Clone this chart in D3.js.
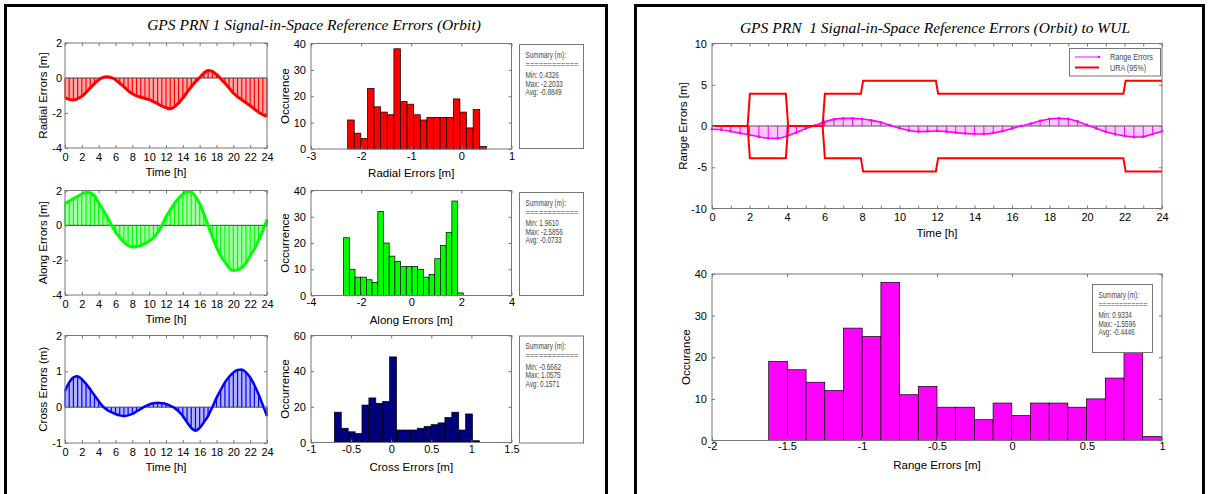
<!DOCTYPE html>
<html>
<head>
<meta charset="utf-8">
<script src="https://cdn.jsdelivr.net/npm/d3@7"></script>
<style>
  body { margin: 0; background: #fff; }
  svg { display: block; }
</style>
</head>
<body>
<svg id="chart" width="1210" height="494"></svg>
<script>
// ---- data ----
const hours = [0,0.5,1,1.5,2,2.5,3,3.5,4,4.5,5,5.5,6,6.5,7,7.5,8,8.5,9,9.5,10,10.5,11,11.5,12,
               12.5,13,13.5,14,14.5,15,15.5,16,16.5,17,17.5,18,18.5,19,19.5,20,20.5,21,21.5,22,22.5,23,23.5,24];

const radialErr = [-1.14,-1.22,-1.25,-1.18,-1.05,-0.82,-0.57,-0.32,-0.1,0.03,0.07,0.02,-0.1,-0.3,-0.5,-0.72,
                   -0.9,-1.02,-1.1,-1.17,-1.24,-1.35,-1.47,-1.6,-1.7,-1.76,-1.65,-1.42,-1.14,-0.82,-0.5,-0.22,
                   0.03,0.28,0.43,0.38,0.2,-0.04,-0.29,-0.58,-0.86,-1.07,-1.24,-1.41,-1.58,-1.77,-1.96,-2.1,-2.2];
const alongErr = [1.25,1.4,1.54,1.66,1.79,1.88,1.87,1.68,1.3,0.9,0.5,0.05,-0.38,-0.7,-0.96,-1.15,
                  -1.25,-1.22,-1.15,-1.04,-0.9,-0.72,-0.42,-0.02,0.48,0.88,1.25,1.55,1.79,1.94,1.92,1.65,
                  1.25,0.65,0.0,-0.65,-1.25,-1.75,-2.1,-2.45,-2.59,-2.55,-2.42,-2.15,-1.75,-1.35,-0.85,-0.3,0.33];
const crossErr = [0.45,0.69,0.83,0.86,0.78,0.65,0.5,0.33,0.17,0.02,-0.08,-0.14,-0.19,-0.23,-0.25,-0.23,
                  -0.19,-0.12,-0.05,0.02,0.08,0.11,0.12,0.11,0.09,0.04,-0.02,-0.12,-0.25,-0.42,-0.58,-0.66,
                  -0.58,-0.42,-0.25,0.0,0.26,0.48,0.69,0.85,0.97,1.04,1.05,0.97,0.83,0.62,0.36,0.06,-0.25];
const rangeErr = [-0.4,-0.45,-0.65,-0.87,-1.09,-1.3,-1.48,-1.5,-1.22,-0.8,-0.3,0.05,0.5,0.8,0.92,0.93,
                  0.85,0.68,0.45,0.1,-0.25,-0.55,-0.68,-0.65,-0.6,-0.68,-0.8,-0.9,-0.97,-0.97,-0.85,-0.62,
                  -0.3,0.0,0.3,0.62,0.85,0.93,0.85,0.55,0.12,-0.3,-0.7,-1.0,-1.2,-1.35,-1.3,-0.98,-0.65];

const uraTimes = [0,1.9,2.02,3.94,4.06,5.9,6.02,7.94,8.06,11.94,12.06,21.94,22.06,24];
const uraLevel = [0,0,3.9,3.9,0,0,3.9,3.9,5.5,5.5,3.9,3.9,5.5,5.5];

const radialCounts = [11,6,4,23,16,14,13,38,18,17,13,11,12,12,12,12,19,14,8,15,1];
const alongCounts  = [22,10,7,7,6,5,32,20,15,13,11,11,11,10,7,8,14,19,24,36,1];
const crossCounts  = [17,8,6,5,21,25,22,23,48,7,7,7,8,9,10,11,14,17,7,16,1];
const rangeCounts  = [19,17,14,12,27,25,38,11,13,8,8,5,9,6,9,9,8,10,15,25,1];

const radialBins = [-2.269, 0.4985];
const alongBins  = [-2.699, 2.075];
const crossBins  = [-0.709, 1.1006];
const rangeBins  = [-1.622, 0.996];

const radialSummary = ["Summary (m):", "============", "Min: 0.4326", "Max: -2.2033", "Avg: -0.8849"];
const alongSummary  = ["Summary (m):", "============", "Min: 1.9610", "Max: -2.5856", "Avg: -0.0733"];
const crossSummary  = ["Summary (m):", "============", "Min: -0.6662", "Max: 1.0575", "Avg: 0.1571"];
const rangeSummary  = ["Summary (m):", "============", "Min: 0.9334", "Max: -1.5596", "Avg: -0.4446"];

const hourTicks = [0,2,4,6,8,10,12,14,16,18,20,22,24];
const hourTicksAll = [0,1,2,3,4,5,6,7,8,9,10,11,12,13,14,15,16,17,18,19,20,21,22,23,24];
const errTicks = [-4,-2,0,2];
const crossTicks = [-1,0,1,2];
const rangeTicks = [-10,-5,0,5,10];
const radialHistX = [-3,-2,-1,0,1];
const alongHistX = [-4,-2,0,2,4];
const crossHistX = [-1,-0.5,0,0.5,1,1.5];
const rangeHistX = [-2,-1.5,-1,-0.5,0,0.5,1];
const count40 = [0,10,20,30,40];
const count60 = [0,20,40,60];

// ---- drawing ----
const FONT = '"Liberation Sans", Arial, sans-serif';
const AX = "#777";
const fmt = d => String(d);   // plain hyphen minus, no trailing zeros
const svg = d3.select("#chart");

// panel frames
svg.append("rect").attr("x", 5.5).attr("y", 5.5).attr("width", 601).attr("height", 600)
    .attr("fill", "none").attr("stroke", "#000").attr("stroke-width", 3);
svg.append("rect").attr("x", 635.5).attr("y", 5.5).attr("width", 568).attr("height", 600)
    .attr("fill", "none").attr("stroke", "#000").attr("stroke-width", 3);

// titles
svg.append("text").attr("x", 314).attr("y", 30).attr("text-anchor", "middle")
    .attr("font-family", '"Liberation Serif", "Times New Roman", serif').attr("font-style", "italic")
    .attr("font-size", 15.5).text("GPS PRN 1 Signal-in-Space Reference Errors (Orbit)");
svg.append("text").attr("x", 935).attr("y", 32.5).attr("text-anchor", "middle")
    .attr("font-family", '"Liberation Serif", "Times New Roman", serif').attr("font-style", "italic")
    .attr("font-size", 15.5).attr("xml:space", "preserve")
    .text("GPS PRN  1 Signal-in-Space Reference Errors (Orbit) to WUL");

function axesBox(g, x, y, xTicks, yTicks, opt) {
    const [l, r] = x.range();
    const [b, t] = y.range();
    const ax = (axis, tx, ty) => g.append("g")
        .attr("transform", `translate(${tx},${ty})`)
        .call(axis)
        .call(s => s.select(".domain").remove())
        .call(s => s.selectAll(".tick line").attr("stroke", AX))
        .call(s => s.selectAll("text").attr("font-size", 11).attr("font-family", FONT).attr("fill", "#000"));

    ax(d3.axisBottom(x).tickValues(opt.xTickMarks || xTicks).tickSize(-3).tickPadding(opt.xPad)
        .tickFormat(d => xTicks.includes(d) ? fmt(d) : ""), 0, b);
    ax(d3.axisTop(x).tickValues(opt.xTickMarks || xTicks).tickSize(-3).tickFormat(""), 0, t);
    ax(d3.axisLeft(y).tickValues(yTicks).tickSize(-3).tickPadding(opt.yPad).tickFormat(fmt), l, 0);
    ax(d3.axisRight(y).tickValues(yTicks).tickSize(-3).tickFormat(""), r, 0);

    g.append("rect").attr("x", l).attr("y", t).attr("width", r - l).attr("height", b - t)
        .attr("fill", "none").attr("stroke", AX);

    g.append("text").attr("x", (l + r) / 2).attr("y", b + 28).attr("text-anchor", "middle")
        .attr("font-family", FONT).attr("font-size", 11.5).text(opt.xlabel);
    g.append("text").attr("transform", `translate(${l - opt.yLabOff},${(t + b) / 2}) rotate(-90)`)
        .attr("text-anchor", "middle").attr("font-family", FONT).attr("font-size", 11.5).text(opt.ylabel);
}

function timePlot(box, vals, yDomain, yTicks, color, light, lw, ylabel) {
    const g = svg.append("g");
    const x = d3.scaleLinear().domain([0, 24]).range([box[0], box[1]]);
    const y = d3.scaleLinear().domain(yDomain).range([box[3], box[2]]);

    g.append("path").datum(vals)
        .attr("d", d3.area().x((d, i) => x(hours[i])).y0(y(0)).y1(d => y(d)).curve(d3.curveMonotoneX))
        .attr("fill", light);
    g.selectAll(".stem").data(vals).enter().append("line")
        .attr("x1", (d, i) => x(hours[i])).attr("x2", (d, i) => x(hours[i]))
        .attr("y1", y(0)).attr("y2", d => y(d))
        .attr("stroke", color).attr("stroke-width", 1.2);
    g.append("line").attr("x1", x(0)).attr("x2", x(24)).attr("y1", y(0)).attr("y2", y(0))
        .attr("stroke", "#444").attr("stroke-width", 1);
    g.append("path").datum(vals)
        .attr("d", d3.line().x((d, i) => x(hours[i])).y(d => y(d)).curve(d3.curveMonotoneX))
        .attr("fill", "none").attr("stroke", color).attr("stroke-width", lw);

    axesBox(g, x, y, hourTicks, yTicks, { xPad: 5, yPad: 3, xlabel: "Time [h]", ylabel: ylabel, yLabOff: 18 });
}

function summaryBox(x0, y0, w, h, lines) {
    const g = svg.append("g");
    g.append("rect").attr("x", x0).attr("y", y0).attr("width", w).attr("height", h)
        .attr("fill", "#fff").attr("stroke", AX);
    const offs = [13, 22, 33.5, 42, 50.5];
    lines.forEach((s, i) => {
        const t = g.append("text")
            .attr("transform", `translate(${x0 + 6},${y0 + offs[i]}) scale(0.78,1)`)
            .attr("font-family", FONT).attr("font-size", 8.2).attr("fill", "#444").text(s);
        if (i === 1) t.attr("textLength", (w - 11) / 0.78).attr("lengthAdjust", "spacingAndGlyphs");
    });
}

function histPlot(box, counts, bins, xDomain, xTicks, yMax, yTicks, fill, xlabel, ylabel, xPad, yLabOff) {
    const g = svg.append("g");
    const x = d3.scaleLinear().domain(xDomain).range([box[0], box[1]]);
    const y = d3.scaleLinear().domain([0, yMax]).range([box[3], box[2]]);
    const bw = (bins[1] - bins[0]) / counts.length;

    g.selectAll(".bar").data(counts).enter().append("rect")
        .attr("x", (d, i) => x(bins[0] + i * bw))
        .attr("width", (d, i) => x(bins[0] + (i + 1) * bw) - x(bins[0] + i * bw))
        .attr("y", d => y(d)).attr("height", d => y(0) - y(d))
        .attr("fill", fill).attr("stroke", "#000").attr("stroke-width", 0.7);

    axesBox(g, x, y, xTicks, yTicks, { xPad: xPad, yPad: 5, xlabel: xlabel, ylabel: ylabel, yLabOff: yLabOff });
}

// left panel rows
timePlot([65, 267, 43, 148], radialErr, [-4, 2], errTicks, "#ff0000", "rgba(255,0,0,0.35)", 3, "Radial Errors [m]");
histPlot([311, 511.5, 43.5, 149], radialCounts, radialBins, [-3, 1], radialHistX, 40, count40,
    "#ff0000", "Radial Errors [m]", "Occurence", 3, 22);
summaryBox(519.5, 44.5, 64, 104, radialSummary);

timePlot([65, 267, 190.5, 295], alongErr, [-4, 2], errTicks, "#00ff00", "rgba(0,255,0,0.35)", 3, "Along Errors [m]");
histPlot([311, 511.5, 190.5, 295.5], alongCounts, alongBins, [-4, 4], alongHistX, 40, count40,
    "#00ff00", "Along Errors [m]", "Occurrence", 3, 22);
summaryBox(519.5, 192.5, 64, 103, alongSummary);

timePlot([65, 267, 335.5, 443], crossErr, [-1, 2], crossTicks, "#0000ff", "rgba(0,0,255,0.3)", 2.5, "Cross Errors (m)");
histPlot([311, 511.5, 335.5, 442.5], crossCounts, crossBins, [-1, 1.5], crossHistX, 60, count60,
    "#00007f", "Cross Errors [m]", "Occurrence", 3, 22);
summaryBox(519.5, 336, 64, 107, crossSummary);

// right panel: range errors vs URA
(function () {
    const g = svg.append("g");
    const x = d3.scaleLinear().domain([0, 24]).range([712, 1162]);
    const y = d3.scaleLinear().domain([-10, 10]).range([208.5, 43.5]);

    g.append("path").datum(rangeErr)
        .attr("d", d3.area().x((d, i) => x(hours[i])).y0(y(0)).y1(d => y(d)).curve(d3.curveMonotoneX))
        .attr("fill", "rgba(255,0,255,0.22)");
    g.selectAll(".stem").data(rangeErr).enter().append("line")
        .attr("x1", (d, i) => x(hours[i])).attr("x2", (d, i) => x(hours[i]))
        .attr("y1", y(0)).attr("y2", d => y(d))
        .attr("stroke", "#ff00ff").attr("stroke-width", 1);
    g.append("line").attr("x1", x(0)).attr("x2", x(24)).attr("y1", y(0)).attr("y2", y(0))
        .attr("stroke", "#555").attr("stroke-width", 1);
    g.append("path").datum(rangeErr)
        .attr("d", d3.line().x((d, i) => x(hours[i])).y(d => y(d)).curve(d3.curveMonotoneX))
        .attr("fill", "none").attr("stroke", "#ff00ff").attr("stroke-width", 1.6);
    g.selectAll(".dot").data(rangeErr).enter().append("circle")
        .attr("cx", (d, i) => x(hours[i])).attr("cy", d => y(d)).attr("r", 1.4).attr("fill", "#ff00ff");

    const ura = d3.line().x((d, i) => x(uraTimes[i])).y(d => y(d));
    g.append("path").datum(uraLevel).attr("d", ura)
        .attr("fill", "none").attr("stroke", "#ff0000").attr("stroke-width", 2);
    g.append("path").datum(uraLevel.map(v => -v)).attr("d", ura)
        .attr("fill", "none").attr("stroke", "#ff0000").attr("stroke-width", 2);

    axesBox(g, x, y, hourTicks, rangeTicks,
        { xTickMarks: hourTicksAll, xPad: 5, yPad: 5, xlabel: "Time [h]", ylabel: "Range Errors [m]", yLabOff: 25 });

    // legend
    const lg = svg.append("g");
    lg.append("rect").attr("x", 1069.5).attr("y", 48.5).attr("width", 91).attr("height", 27.5)
        .attr("fill", "#fff").attr("stroke", AX);
    lg.append("line").attr("x1", 1075).attr("x2", 1099).attr("y1", 57).attr("y2", 57)
        .attr("stroke", "#ff00ff").attr("stroke-width", 1);
    lg.append("circle").attr("cx", 1099).attr("cy", 57).attr("r", 1.3).attr("fill", "#ff00ff");
    lg.append("line").attr("x1", 1075).attr("x2", 1099).attr("y1", 67.5).attr("y2", 67.5)
        .attr("stroke", "#ff0000").attr("stroke-width", 2);
    lg.append("text").attr("transform", "translate(1110,60) scale(0.85,1)")
        .attr("font-family", FONT).attr("font-size", 8.5).attr("fill", "#444").text("Range Errors");
    lg.append("text").attr("transform", "translate(1110,71) scale(0.85,1)")
        .attr("font-family", FONT).attr("font-size", 8.5).attr("fill", "#444").text("URA (95%)");
})();

histPlot([712, 1162, 274, 440.5], rangeCounts, rangeBins, [-2, 1], rangeHistX, 40, count40,
    "#ff00ff", "Range Errors [m]", "Occurance", 2, 22);
summaryBox(1092.5, 284.5, 60, 68, rangeSummary);
</script>
</body>
</html>
